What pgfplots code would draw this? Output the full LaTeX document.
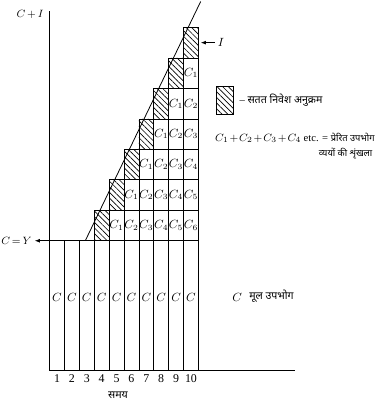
\documentclass[border=0pt]{standalone}
\usepackage{fontspec}
\setmainfont{Liberation Serif}
\newfontfamily\hindi[Script=Devanagari]{Noto Sans}
\usepackage{pgfplots}
\pgfplotsset{compat=1.18}
\usepackage{pgfplotstable}
\usetikzlibrary{patterns.meta, arrows.meta}

% investment blocks (top of each hatched cell)
\pgfplotstableread{
x    top
3.5  5.25
4.5  6.25
5.5  7.25
6.5  8.25
7.5  9.25
8.5  10.25
9.5  11.25
}\invest

% consumption part of each column
\pgfplotstableread{
x    top
0.5  4.25
1.5  4.25
2.5  4.25
3.5  4.25
4.5  5.25
5.5  6.25
6.5  7.25
7.5  8.25
8.5  9.25
9.5  10.25
}\cons

% induced consumption cells: centre and subscript
\pgfplotstableread{
x    y     j
4.5  4.75  1
5.5  4.75  2
6.5  4.75  3
7.5  4.75  4
8.5  4.75  5
9.5  4.75  6
5.5  5.75  1
6.5  5.75  2
7.5  5.75  3
8.5  5.75  4
9.5  5.75  5
6.5  6.75  1
7.5  6.75  2
8.5  6.75  3
9.5  6.75  4
7.5  7.75  1
8.5  7.75  2
9.5  7.75  3
8.5  8.75  1
9.5  8.75  2
9.5  9.75  1
}\cells

\tikzset{hatch/.style={pattern={Lines[angle=-45,distance=3pt,line width=0.5pt]}}}

\begin{document}
\begin{tikzpicture}
\begin{axis}[
    scale only axis,
    width=185.6pt, height=271.7pt,
    xmin=0, xmax=16.5, ymin=0, ymax=11.8,
    axis lines=left,
    axis line style={-, line width=0.7pt},
    xtick={0.5,1.5,...,9.5},
    xticklabels={1,2,3,4,5,6,7,8,9,10},
    ytick=\empty,
    major tick length=0pt,
    xticklabel style={font=\small},
    clip=false,
]
% hatched investment blocks, then the consumption columns over them
\addplot[ybar, bar width=1, bar shift=0pt, draw=black, line width=0.5pt, hatch] table[x=x, y=top] {\invest};
\addplot[ybar, bar width=1, bar shift=0pt, draw=black, line width=0.5pt, fill=white] table[x=x, y=top] {\cons};

% row lines inside the staircase
\addplot[black, line width=0.5pt] coordinates {(4,5.25) (10,5.25)};
\addplot[black, line width=0.5pt] coordinates {(5,6.25) (10,6.25)};
\addplot[black, line width=0.5pt] coordinates {(6,7.25) (10,7.25)};
\addplot[black, line width=0.5pt] coordinates {(7,8.25) (10,8.25)};
\addplot[black, line width=0.5pt] coordinates {(8,9.25) (10,9.25)};

% C = Y line with arrow
\addplot[black, line width=0.6pt, {Latex[length=4pt]}-] coordinates {(-1.0,4.25) (10,4.25)};
% rising C + I line
\addplot[black, line width=0.6pt] coordinates {(2.4,4.25) (10.15,12.1)};

% cell labels
\addplot[draw=none, mark=none, point meta=explicit symbolic,
    nodes near coords={$C_{\pgfplotspointmeta}$},
    nodes near coords align=center,
    every node near coord/.append style={font=\small, inner sep=0pt}]
    table[x=x, y=y, meta=j] {\cells};
\addplot[draw=none, mark=none,
    nodes near coords={$C$},
    nodes near coords align=center,
    every node near coord/.append style={font=\small, inner sep=0pt}]
    coordinates {(0.5,2.4) (1.5,2.4) (2.5,2.4) (3.5,2.4) (4.5,2.4) (5.5,2.4) (6.5,2.4) (7.5,2.4) (8.5,2.4) (9.5,2.4)};

% I marker
\addplot[black, line width=0.6pt, -{Latex[length=4pt]}] coordinates {(11.1,10.75) (10.15,10.75)};
\node[anchor=west, font=\small, inner sep=1pt] at (axis cs:11.2,10.75) {$I$};

% key
\addplot[draw=black, line width=0.5pt, hatch] coordinates {(11.2,8.4) (12.33,8.4) (12.33,9.32) (11.2,9.32) (11.2,8.4)};
\node[anchor=west, font=\footnotesize, inner sep=0pt] at (axis cs:12.75,8.86) {-- {\hindi सतत निवेश अनुक्रम}};
\node[anchor=west, font=\footnotesize, inner sep=0pt] at (axis cs:11.1,7.62)
    {$\medmuskip=1.5mu C_1+C_2+C_3+C_4$ etc. = {\scriptsize\hindi प्रेरित उपभोग}};
\node[anchor=east, font=\scriptsize, inner sep=0pt] at (axis cs:21.7,7.12) {\hindi व्ययों की शृंखला};
\node[font=\small, inner sep=0pt] at (axis cs:12.6,2.4) {$C$};
\node[anchor=west, font=\footnotesize, inner sep=0pt] at (axis cs:13.4,2.44) {\hindi मूल उपभोग};

% axis texts
\node[anchor=east, font=\footnotesize, inner sep=1pt] at (axis cs:-0.3,11.66) {$C\,{+}\,I$};
\node[anchor=east, font=\footnotesize, inner sep=1pt] at (axis cs:-1.1,4.25) {$C\,{=}\,Y$};
\node[font=\footnotesize] at (axis cs:4.6,-0.82) {\hindi समय};

% page extent
\path (axis cs:-3.2,-0.98) rectangle (axis cs:21.8,12.15);
\end{axis}
\end{tikzpicture}
\end{document}
